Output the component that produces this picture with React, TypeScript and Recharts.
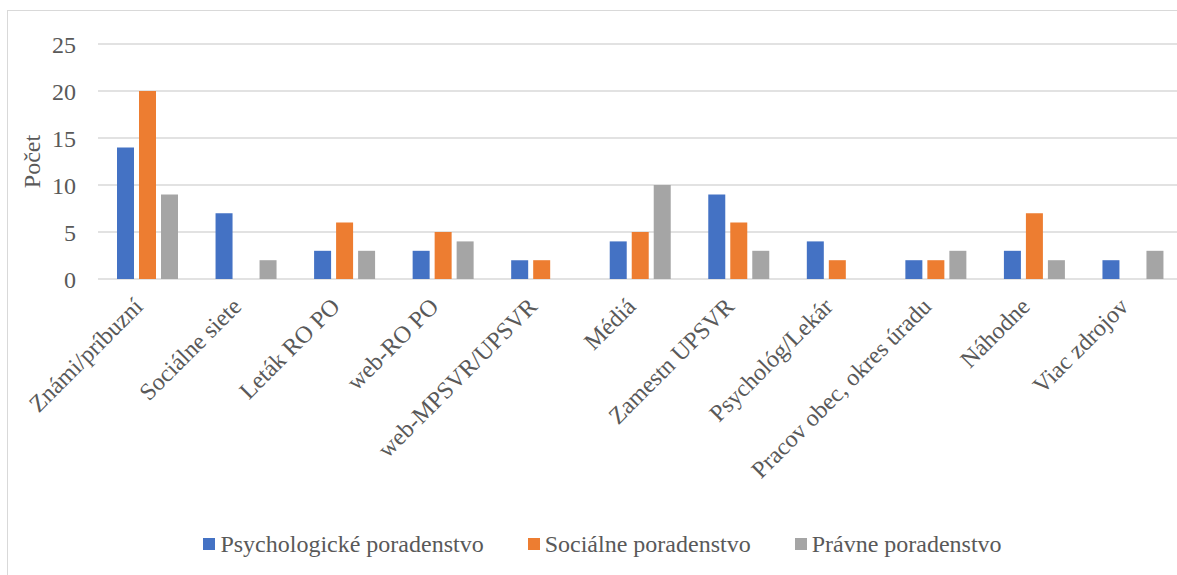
import { BarChart, Bar, XAxis, YAxis, CartesianGrid, Legend } from 'recharts';

const categories = [
  'Známi/príbuzní',
  'Sociálne siete',
  'Leták RO PO',
  'web-RO PO',
  'web-MPSVR/UPSVR',
  'Médiá',
  'Zamestn UPSVR',
  'Psychológ/Lekár',
  'Pracov obec, okres úradu',
  'Náhodne',
  'Viac zdrojov',
];

const psychologicke = [14, 7, 3, 3, 2, 4, 9, 4, 2, 3, 2];
const socialne = [20, 0, 6, 5, 2, 5, 6, 2, 2, 7, 0];
const pravne = [9, 2, 3, 4, 0, 10, 3, 0, 3, 2, 3];

const yTicks = [0, 5, 10, 15, 20, 25];

const series = [
  { key: 'psych', name: 'Psychologické poradenstvo', color: '#4472C4', values: psychologicke },
  { key: 'soc', name: 'Sociálne poradenstvo', color: '#ED7D31', values: socialne },
  { key: 'prav', name: 'Právne poradenstvo', color: '#A5A5A5', values: pravne },
];

const data = categories.map((name, i) => {
  const row: Record<string, string | number> = { name };
  series.forEach((s) => {
    row[s.key] = s.values[i];
  });
  return row;
});

const FONT = 'Liberation Serif, Tinos, DejaVu Serif, serif';
const TEXT = '#595959';

function CategoryTick({ x, y, payload }: any) {
  return (
    <g transform={`translate(${x - 3},${y + 29}) rotate(-45)`}>
      <text x={0} y={0} textAnchor="end" fill={TEXT} fontSize={24} style={{ fontFamily: FONT }}>
        {payload.value}
      </text>
    </g>
  );
}

function YLabel({ viewBox }: any) {
  const cx = viewBox.x + 32;
  const cy = viewBox.y + viewBox.height / 2;
  return (
    <text
      x={cx}
      y={cy}
      transform={`rotate(-90, ${cx}, ${cy})`}
      textAnchor="middle"
      dominantBaseline="central"
      fill={TEXT}
      fontSize={24}
      style={{ fontFamily: FONT }}
    >
      Počet
    </text>
  );
}

function LegendContent() {
  return (
    <div style={{ display: 'flex', justifyContent: 'center', fontFamily: FONT, fontSize: 24, color: TEXT, lineHeight: '28px' }}>
      {series.map((s) => (
        <div key={s.key} style={{ display: 'flex', alignItems: 'center', margin: '0 22px' }}>
          <span style={{ width: 12, height: 12, background: s.color, marginRight: 5, display: 'inline-block' }} />
          <span>{s.name}</span>
        </div>
      ))}
    </div>
  );
}

export default function App() {
  return (
    <div
      style={{
        position: 'fixed',
        left: 0,
        top: 0,
        width: 1177,
        height: 575,
        overflow: 'hidden',
        background: '#fff',
        fontFamily: FONT,
      }}
    >
      <div
        style={{
          position: 'absolute',
          left: 7,
          top: 10,
          width: 1250,
          height: 650,
          border: '1px solid #d9d9d9',
        }}
      />
      <div style={{ position: 'absolute', left: 0, top: 0 }}>
        <BarChart
          width={1200}
          height={575}
          data={data}
          margin={{ top: 44, right: 18, left: 0, bottom: 0 }}
          barGap={5}
          barSize={17}
          style={{ fontFamily: FONT }}
        >
          <CartesianGrid vertical={false} stroke="#d9d9d9" strokeWidth={1.5} />
          <XAxis
            dataKey="name"
            interval={0}
            height={296}
            axisLine={false}
            tickLine={false}
            tickSize={0}
            tickMargin={0}
            tick={<CategoryTick />}
          />
          <YAxis
            width={98}
            domain={[0, 25]}
            ticks={yTicks}
            axisLine={false}
            tickLine={false}
            tickSize={0}
            tickMargin={22}
            tick={{ fill: TEXT, fontSize: 24, style: { fontFamily: FONT } }}
            label={<YLabel />}
          />
          <Legend
            layout="horizontal"
            verticalAlign="middle"
            wrapperStyle={{ top: 530, left: 0, width: 1205 }}
            content={<LegendContent />}
          />
          {series.map((s) => (
            <Bar key={s.key} dataKey={s.key} name={s.name} fill={s.color} isAnimationActive={false} />
          ))}
        </BarChart>
      </div>
    </div>
  );
}
